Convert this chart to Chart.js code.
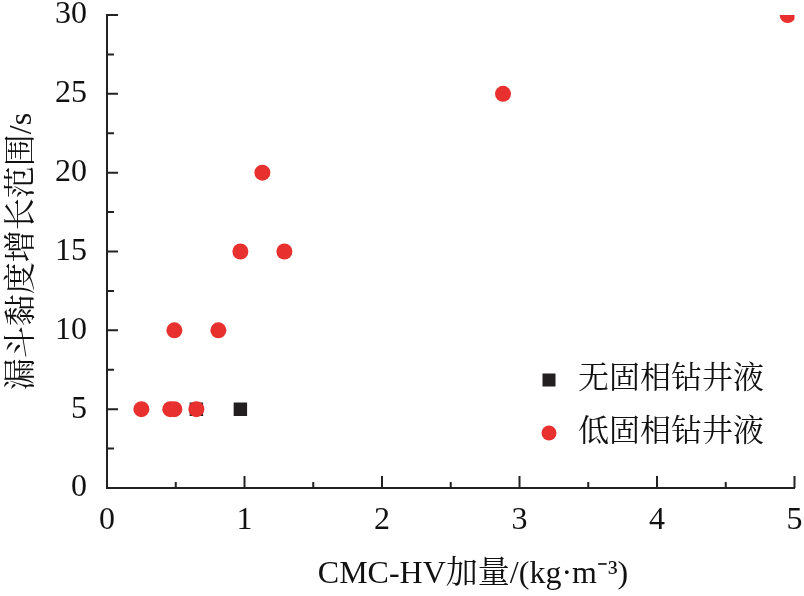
<!DOCTYPE html>
<html>
<head>
<meta charset="utf-8">
<script src="https://cdn.jsdelivr.net/npm/chart.js@4.4.1/dist/chart.umd.min.js"></script>
<style>
  html, body { margin: 0; padding: 0; background: #fff; }
  #wrap { width: 804px; height: 596px; }
</style>
</head>
<body>
<div id="wrap"><canvas id="chart"></canvas></div>
<script>
// series
const seriesNames = ['无固相钻井液', '低固相钻井液'];
const noSolidX = [0.65, 0.97];
const noSolidY = [5, 5];
const lowSolidX = [0.25, 0.46, 0.49, 0.65, 0.49, 0.81, 0.97, 1.29, 1.13, 2.88, 4.95];
const lowSolidY = [5, 5, 5, 5, 10, 10, 15, 15, 20, 25, 30];
const xMajor = [0, 1, 2, 3, 4, 5];
const xMinor = [0.5, 1.5, 2.5, 3.5, 4.5];
const yMajor = [0, 5, 10, 15, 20, 25, 30];
const yMinor = [2.5, 7.5, 12.5, 17.5, 22.5, 27.5];
const xTitle = 'CMC-HV加量/(kg·m⁻³)';
const yTitle = '漏斗黏度增长范围/s';

const FONT = "'Liberation Serif', 'Noto Serif CJK SC', 'Noto Sans CJK SC', serif";
const AXIS = '#222';

function toPoints(xs, ys) {
  return xs.map((x, i) => ({ x: x, y: ys[i] }));
}

// ticks in this chart point into the plot, so they are drawn by hand
const inwardTicks = {
  id: 'inwardTicks',
  afterDraw(chart) {
    const ctx = chart.ctx;
    const xs = chart.scales.x, ys = chart.scales.y;
    const area = chart.chartArea;
    ctx.save();
    ctx.strokeStyle = AXIS;
    ctx.lineWidth = 2;
    ctx.beginPath();
    xMajor.forEach(v => {
      const px = xs.getPixelForValue(v);
      ctx.moveTo(px, area.bottom); ctx.lineTo(px, area.bottom - 12);
    });
    xMinor.forEach(v => {
      const px = xs.getPixelForValue(v);
      ctx.moveTo(px, area.bottom); ctx.lineTo(px, area.bottom - 6);
    });
    yMajor.forEach(v => {
      const py = ys.getPixelForValue(v);
      ctx.moveTo(area.left, py); ctx.lineTo(area.left + 11, py);
    });
    yMinor.forEach(v => {
      const py = ys.getPixelForValue(v);
      ctx.moveTo(area.left, py); ctx.lineTo(area.left + 7, py);
    });
    ctx.stroke();
    ctx.restore();
  }
};

// legend sits inside the plot, lower right; x title is a bit right of centre
const boxLegend = {
  id: 'boxLegend',
  afterDraw(chart) {
    const ctx = chart.ctx;
    const mx = 549, tx = 578;
    const rows = [380, 433];
    ctx.save();
    ctx.font = "31px " + FONT;
    ctx.textBaseline = 'middle';
    ctx.fillStyle = '#231f20';
    ctx.fillRect(mx - 6.5, rows[0] - 6.5, 13, 13);
    ctx.fillStyle = '#e8302e';
    ctx.beginPath();
    ctx.arc(mx, rows[1], 7.5, 0, Math.PI * 2);
    ctx.fill();
    ctx.fillStyle = '#111';
    ctx.fillText(seriesNames[0], tx, rows[0]);
    ctx.fillText(seriesNames[1], tx, rows[1]);

    ctx.font = "32px " + FONT;
    ctx.textAlign = 'center';
    ctx.fillText(xTitle, 473, 575);
    ctx.restore();
  }
};

new Chart(document.getElementById('chart').getContext('2d'), {
  type: 'scatter',
  data: {
    datasets: [
      {
        label: seriesNames[0],
        data: toPoints(noSolidX, noSolidY),
        pointStyle: 'rect',
        pointRadius: 9.5,
        pointHoverRadius: 9.5,
        backgroundColor: '#231f20',
        borderColor: '#231f20',
        borderWidth: 0,
        order: 2
      },
      {
        label: seriesNames[1],
        data: toPoints(lowSolidX, lowSolidY),
        pointStyle: 'circle',
        pointRadius: 8,
        pointHoverRadius: 8,
        backgroundColor: '#e8302e',
        borderColor: '#e8302e',
        borderWidth: 0,
        order: 1
      }
    ]
  },
  options: {
    responsive: true,
    maintainAspectRatio: false,
    animation: false,
    layout: { padding: { top: 15, right: 9, left: 0, bottom: 0 } },
    plugins: {
      legend: { display: false },
      tooltip: { enabled: false }
    },
    scales: {
      x: {
        type: 'linear',
        min: 0,
        max: 5,
        afterBuildTicks(scale) { scale.ticks = xMajor.map(v => ({ value: v })); },
        afterFit(scale) {
          scale.height = 108;
          scale.paddingLeft = 0;
          scale.paddingRight = 0;
        },
        grid: { display: false, drawTicks: false },
        border: { display: true, color: AXIS, width: 2 },
        ticks: {
          padding: 13,
          color: '#111',
          font: { family: FONT, size: 32 }
        },
        title: { display: false }
      },
      y: {
        type: 'linear',
        min: 0,
        max: 30,
        afterBuildTicks(scale) { scale.ticks = yMajor.map(v => ({ value: v })); },
        afterFit(scale) {
          scale.width = 107;
          scale.paddingTop = 0;
          scale.paddingBottom = 0;
        },
        grid: { display: false, drawTicks: false },
        border: { display: true, color: AXIS, width: 2 },
        ticks: {
          padding: 20,
          color: '#111',
          font: { family: FONT, size: 32 }
        },
        title: {
          display: true,
          text: yTitle,
          color: '#111',
          padding: { top: 3, bottom: 4 },
          font: { family: FONT, size: 32 }
        }
      }
    }
  },
  plugins: [inwardTicks, boxLegend]
});
</script>
</body>
</html>
